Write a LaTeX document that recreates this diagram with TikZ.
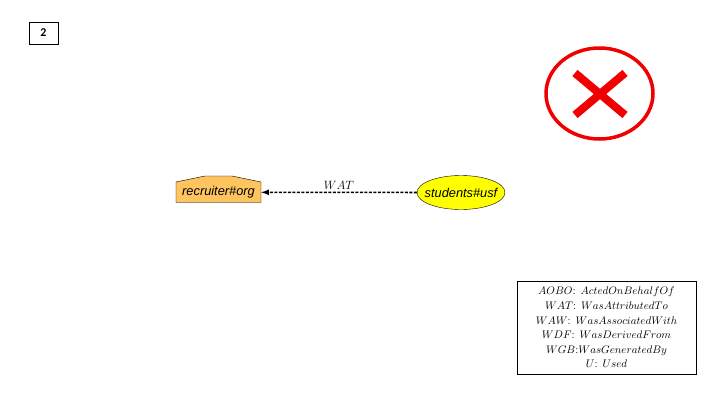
\documentclass[tikz,border=0pt]{standalone}
\usepackage{fontspec}
\setsansfont{Liberation Sans}
\newfontfamily\calibri{Carlito}
\usetikzlibrary{shapes.geometric}
\definecolor{agentorange}{RGB}{253,196,96}
\definecolor{entityyellow}{RGB}{255,255,0}
\definecolor{crossred}{RGB}{240,0,0}
\tikzset{
	lbl/.style={font=\sffamily\itshape\fontsize{12.8}{15}\selectfont},
	rel/.style={dash pattern=on 3pt off 1.5pt,line width=1.6pt,-latex},
}
\begin{document}
\begin{tikzpicture}[x=1pt,y=-1pt]
	\useasboundingbox (0,0) rectangle (720,405);
	% slide number
	\node[draw,thick,minimum width=29pt,minimum height=22pt,inner sep=0,font=\calibri\bfseries\fontsize{12}{14}\selectfont] (num) at (43.5,33) {2};
	% red cross
	\draw[crossred,line width=3.5pt] (599.5,93.5) ellipse (53.5 and 45.5);
	\draw[crossred,line width=8pt] (575,73) -- (625,115);
	\draw[crossred,line width=8pt] (625,73) -- (575,115);
	% agent
	\draw[fill=agentorange] (176,182) -- (205,176) -- (232,176) -- (261,182) -- (261,202.5) -- (176,202.5) -- cycle;
	\node[lbl,minimum width=85pt,minimum height=20pt,inner sep=0] (recruiter) at (218.5,192.25) {recruiter\#org};
	% entity
	\node[lbl,draw,ellipse,fill=entityyellow,minimum width=88pt,minimum height=34pt,inner xsep=-6.5pt,inner ysep=0] (students) at (461,192.5) {students\#usf};
	\draw[rel] (students) -- node[above,yshift=-1pt,font=\fontsize{11.5}{13}\selectfont] {$WAT$} (recruiter);
	% legend
	\node[draw,align=center,minimum width=179pt,minimum height=93pt,inner sep=2pt,font=\fontsize{11.4}{14.6}\selectfont] (legend) at (606.5,327.5) {$AOBO$: $ActedOnBehalfOf$\\ $WAT$: $WasAttributedTo$\\ $WAW$: $WasAssociatedWith$\\ $WDF$: $WasDerivedFrom$\\ $WGB$:$WasGeneratedBy$\\ $U$: $Used$};
\end{tikzpicture}
\end{document}
